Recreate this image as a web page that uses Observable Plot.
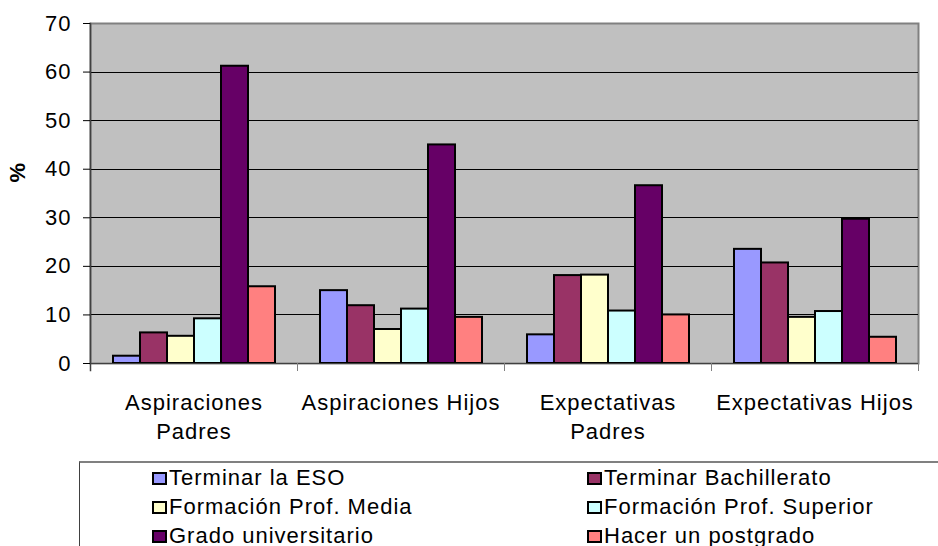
<!DOCTYPE html>
<html>
<head>
<meta charset="utf-8">
<script src="https://cdn.jsdelivr.net/npm/d3@7"></script>
<script src="https://cdn.jsdelivr.net/npm/@observablehq/plot@0.6"></script>
<style>
  html, body { margin: 0; padding: 0; background: #fff; overflow: hidden; }
  body { font-family: "Liberation Sans", Arial, sans-serif; position: relative; width: 938px; height: 546px; }
  #chart svg { display: block; }
  #chart svg text { letter-spacing: 1px; }
  .legend {
    position: absolute; left: 79px; top: 461px; width: 900px; height: 100px;
    border-top: 2px solid #808080; border-left: 1px solid #404040;
    box-sizing: border-box;
    display: grid; grid-template-columns: 435px auto; grid-auto-rows: 29px;
    padding-left: 72px; padding-top: 0px;
    font-size: 22px; line-height: 29px; letter-spacing: 1px; color: #000;
  }
  .legend .item { white-space: nowrap; }
  .legend .sw {
    display: inline-block; width: 15px; height: 13px; border: 2px solid #000;
    box-sizing: border-box; margin-right: 2px; vertical-align: baseline;
  }
</style>
</head>
<body>
<div id="chart"></div>
<script>
const groups = ["Aspiraciones Padres", "Aspiraciones Hijos", "Expectativas Padres", "Expectativas Hijos"];
const groupLabels = ["Aspiraciones\nPadres", "Aspiraciones Hijos", "Expectativas\nPadres", "Expectativas Hijos"];
const series = ["Terminar la ESO", "Terminar Bachillerato", "Formación Prof. Media", "Formación Prof. Superior", "Grado universitario", "Hacer un postgrado"];
const colors = ["#9999ff", "#993366", "#ffffcc", "#ccffff", "#660066", "#ff8080"];
const terminarESO   = [1.5, 15.0, 5.9, 23.5];
const terminarBach  = [6.3, 11.9, 18.1, 20.7];
const fpMedia       = [5.6, 7.0, 18.2, 9.5];
const fpSuperior    = [9.2, 11.2, 10.8, 10.7];
const grado         = [61.2, 45.0, 36.6, 29.7];
const postgrado     = [15.8, 9.5, 10.0, 5.4];
const yTicks = [0, 10, 20, 30, 40, 50, 60, 70];
const yLabel = "%";

const seriesValues = [terminarESO, terminarBach, fpMedia, fpSuperior, grado, postgrado];
const data = [];
groups.forEach((g, gi) => {
  series.forEach((s, si) => {
    data.push({group: g, series: s, value: seriesValues[si][gi]});
  });
});

const chart = Plot.plot({
  width: 938,
  height: 461,
  marginLeft: 89,
  marginRight: 19,
  marginTop: 23,
  marginBottom: 98,
  style: {fontFamily: "Liberation Sans, Arial, sans-serif", fontSize: "22px", background: "#fff", color: "#000", overflow: "visible"},
  fx: {domain: groups, padding: 0, label: null},
  x: {domain: series, paddingInner: 0, paddingOuter: 0.75, axis: null},
  y: {domain: [0, 70], label: null},
  color: {domain: series, range: colors},
  marks: [
    Plot.frame({facet: "super", fill: "#c0c0c0", stroke: "#808080", strokeWidth: 2}),
    Plot.ruleY(yTicks.filter(v => v > 0 && v < 70), {stroke: "#000", strokeWidth: 1, shapeRendering: "crispEdges"}),
    Plot.barY(data, {fx: "group", x: "series", y: "value", fill: "series", stroke: "#000", strokeWidth: 2}),
    Plot.ruleY([0], {stroke: "#404040", strokeWidth: 1}),
    Plot.frame({anchor: "left", stroke: "#808080", insetTop: 340, insetBottom: -7}),
    Plot.frame({anchor: "right", stroke: "#808080", insetTop: 340, insetBottom: -7}),
    Plot.frame({facet: "super", anchor: "left", stroke: "#404040", strokeWidth: 1.5, insetBottom: -7}),
    Plot.axisY({ticks: yTicks, tickSize: 7, tickPadding: 12, label: null, fontSize: 22}),
    Plot.axisFx({anchor: "bottom", tickSize: 0, tickPadding: 26, label: null, fontSize: 22, lineHeight: 1.32,
      tickFormat: d => groupLabels[groups.indexOf(d)]}),
    Plot.text([yLabel], {facet: "super", frameAnchor: "left", dx: -73, dy: -11, rotate: -90, fontWeight: "bold", fontSize: 22, text: d => d})
  ]
});
document.getElementById("chart").appendChild(chart);

const legend = document.createElement("div");
legend.className = "legend";
series.forEach((s, i) => {
  const item = document.createElement("div");
  item.className = "item";
  const sw = document.createElement("span");
  sw.className = "sw";
  sw.style.background = colors[i];
  item.appendChild(sw);
  item.appendChild(document.createTextNode(s));
  legend.appendChild(item);
});
document.body.appendChild(legend);
</script>
</body>
</html>
